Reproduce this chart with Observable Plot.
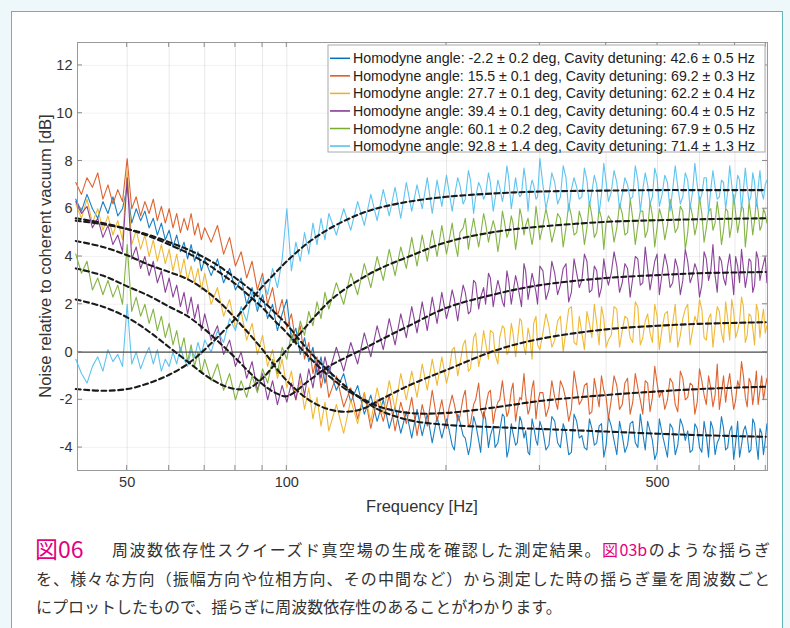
<!DOCTYPE html>
<html><head><meta charset="utf-8">
<script src="https://cdn.jsdelivr.net/npm/d3@7"></script>
<script src="https://cdn.jsdelivr.net/npm/@observablehq/plot@0.6"></script>
<style>
html,body{margin:0;padding:0;}
body{width:790px;height:628px;background:#eef8fa;position:relative;overflow:hidden;font-family:"Noto Sans CJK JP",sans-serif;}
#panel{position:absolute;left:11px;top:11px;width:772px;height:640px;background:#fff;border:1.5px solid #62b6b8;box-sizing:border-box;}
#chart{position:absolute;left:0;top:0;}
.cap{position:absolute;font-size:16px;color:#333;line-height:20px;}
.pk{color:#e4007f;}
</style></head><body>
<div id="panel"></div>
<div id="chart"></div>
<div class="cap pk" style="left:35px;top:535px;font-size:23px;line-height:26px;">図06</div>
<div class="cap" style="left:112px;top:539px;width:658px;text-align:justify;text-align-last:justify;">周波数依存性スクイーズド真空場の生成を確認した測定結果。<span class="pk">図03b</span>のような揺らぎ</div>
<div class="cap" style="left:36px;top:568px;width:734px;text-align:justify;text-align-last:justify;">を、様々な方向（振幅方向や位相方向、その中間など）から測定した時の揺らぎ量を周波数ごと</div>
<div class="cap" style="left:36px;top:596px;">にプロットしたもので、揺らぎに周波数依存性のあることがわかります。</div>
<script>
// Frequencies (Hz) of the measured traces
const freq = [40,41,42,43,44,45,46,47,48,49,50,51,52,53,54,55,56,57,58,59,60,61,62,63,64,65,66,67,68,69,70,
72,74,76,78,80,82,84,86,88,90,92,94,96,98,100,102,104,106,108,110,112,114,116,118,120,
124,128,132,136,140,144,148,152,156,160,164,168,172,176,180,184,188,192,196,200,
205,210,215,220,225,230,235,240,245,250,255,260,265,270,275,280,285,290,295,300,
308,316,324,332,340,348,356,364,372,380,388,396,404,
414,424,434,444,454,464,474,484,494,504,
516,528,540,552,564,576,588,600,612,624,636,648,660,672,684,696,708,720,732,744,756,768,780,792,804];
// extra, in-between frequency bins of the dense high-frequency part
const freqMid = [202,207,212,217,222,227,232,237,242,247,252,257,262,267,272,277,282,287,292,297,
304,312,320,328,336,344,352,360,368,376,384,392,400,
409,419,429,439,449,459,469,479,489,499,
510,522,534,546,558,570,582,594,606,618,630,642,654,666,678,690,702,714,726,738,750,762,774,786,798];

const traceBlue = [6.4,5.9,6.6,6.0,5.6,6.3,5.8,6.5,5.7,6.0,6.9,5.4,6.0,5.5,5.9,5.2,5.6,4.9,5.4,4.7,5.1,4.4,4.9,4.2,4.6,3.9,4.5,3.8,4.2,3.4,3.9,
3.2,3.9,2.9,3.5,2.6,3.1,2.0,2.7,1.7,2.4,1.4,2.0,0.9,1.6,2.2,0.5,1.0,-0.1,0.6,-0.4,0.2,-0.9,-0.2,-1.3,-0.6,
-1.6,-0.9,-2.1,-1.4,-2.6,-1.8,-2.9,-2.0,-3.2,-2.3,-3.4,-2.5,-3.6,-2.4,-3.5,-2.6,-3.8,-2.7,-3.6,-2.8,
-3.9,-2.6,-3.5,-4.3,-2.7,-3.7,-2.5,-4.0,-3.1,-3.8,-2.6,-4.4,-3.0,-3.9,-2.7,-3.6,-4.2,-2.8,-3.7,-2.9,
-4.1,-2.7,-3.8,-3.0,-4.3,-2.6,-3.6,-4.0,-2.8,-3.9,-3.1,-4.4,-2.7,
-3.7,-2.9,-4.2,-3.0,-3.8,-2.6,-4.1,-3.3,-4.5,-2.8,
-3.9,-3.0,-4.3,-2.8,-3.7,-4.2,-3.0,-4.0,-2.9,-4.4,-3.2,-3.8,-2.7,-4.1,-3.3,-4.5,-2.9,-3.9,-3.1,-4.2,-2.8,-3.8,-3.2,-4.3,-3.0];
const midBlue = [-3.2,-4.1,-2.9,-3.6,-3.9,-3.0,-4.2,-2.8,-3.5,-4.0,-3.3,-2.7,-4.1,-3.4,-3.8,-2.9,-3.3,-4.3,-3.1,-3.9,
-3.3,-3.9,-2.9,-4.0,-3.4,-4.2,-2.9,-3.5,-4.1,-3.2,-3.8,-3.0,-3.9,
-3.1,-4.3,-3.5,-3.9,-2.9,-4.0,-3.4,-2.9,-3.7,-4.2,
-3.4,-4.4,-3.2,-3.9,-3.1,-3.3,-4.1,-3.2,-4.2,-3.5,-2.9,-4.3,-3.6,-3.2,-4.0,-3.1,-3.8,-4.4,-3.3,-3.5,-4.1,-3.0,-4.5,-3.4,-3.7];

const traceOrange = [7.1,6.6,7.3,6.9,7.5,6.4,7.0,6.2,6.8,6.3,8.1,6.0,6.5,5.7,6.3,5.8,6.4,5.5,6.1,5.4,6.0,5.2,5.8,5.0,5.6,5.1,5.8,4.9,5.4,4.7,5.2,
4.6,5.3,4.1,4.8,3.6,4.2,3.1,3.8,2.6,3.3,2.0,2.7,1.5,2.2,1.0,1.6,0.4,1.1,-0.3,0.4,-0.9,-0.2,-1.5,-0.7,-1.9,
-1.0,-2.3,-1.5,-2.8,-1.7,-3.2,-2.0,-2.9,-1.8,-3.3,-2.1,-3.0,-1.9,-3.5,-2.2,-3.1,-1.6,-2.9,-2.0,-3.2,
-1.8,-2.9,-1.9,-3.1,-2.2,-1.3,-2.8,-1.7,-3.0,-2.1,-1.2,-2.7,-1.6,-2.9,-1.9,-0.9,-2.6,-1.5,-2.8,-1.7,
-2.7,-1.2,-2.4,-1.5,-2.9,-0.8,-2.2,-1.4,-2.6,-1.1,-2.3,-1.6,-2.8,
-1.0,-2.4,-1.3,-2.6,-0.9,-2.0,-1.2,-2.5,-0.6,-1.9,
-2.4,-1.1,-2.2,-0.8,-2.0,-1.3,-2.6,-0.7,-1.8,-1.0,-2.3,-0.5,-1.7,-2.1,-0.9,-2.4,-1.2,-0.4,-1.9,-1.1,-2.2,-0.8,-1.6,-2.0,-1.1];
const midOrange = [-2.4,-2.2,-2.7,-1.6,-3.0,-2.0,-2.4,-2.3,-1.6,-2.5,-2.0,-1.9,-2.5,-1.3,-2.4,-2.0,-1.8,-2.4,-1.2,-2.2,
-1.7,-2.3,-1.9,-1.2,-2.0,-2.4,-1.5,-2.0,-1.3,-2.5,-1.7,-1.0,-1.9,
-2.0,-1.4,-2.2,-1.1,-2.1,-1.5,-2.6,-1.3,-1.9,-1.3,
-1.6,-2.0,-1.3,-2.5,-1.1,-1.9,-1.4,-2.1,-1.2,-2.2,-1.5,-1.8,-2.4,-1.0,-1.4,-1.7,-2.0,-1.5,-1.0,-2.3,-1.3,-1.6,-2.2,-1.0,-1.5];

const traceYellow = [6.2,5.6,6.4,5.4,6.0,5.1,5.7,4.9,5.5,4.7,7.6,4.5,5.1,4.3,4.9,4.0,4.7,3.8,4.5,3.7,4.3,3.4,4.1,3.2,3.9,3.0,3.6,2.9,3.5,2.6,3.3,
2.0,2.7,1.5,2.2,1.0,1.7,0.5,1.2,-0.1,0.7,-0.6,0.1,-1.1,-0.3,-1.5,-0.8,-2.0,-1.2,-2.4,-1.5,-2.8,-1.9,-3.1,-2.1,-3.3,
-2.2,-3.4,-2.0,-3.0,-1.7,-2.9,-1.5,-2.6,-1.2,-2.4,-0.9,-2.0,-0.8,-1.9,-0.5,-1.6,-0.3,-1.4,-0.2,-1.3,
0.1,-1.0,0.3,-0.8,0.6,-0.6,0.9,-0.3,0.8,-0.5,1.1,-0.1,1.2,-0.2,1.4,0.2,1.0,-0.3,1.5,0.1,
1.6,0.2,1.3,0.0,1.8,0.4,1.5,0.1,1.2,2.0,0.3,1.4,0.5,
1.9,0.2,1.5,0.6,2.1,0.3,1.3,0.8,2.0,0.1,
1.6,0.4,2.0,0.7,1.8,0.3,1.5,2.2,0.6,1.4,0.2,1.9,0.8,2.1,0.5,1.7,0.9,2.3,0.4,1.6,1.0,2.0,0.6,1.8,1.1];
const midYellow = [-0.9,0.2,-0.5,0.5,-0.7,0.8,-0.2,0.4,0.9,-0.1,0.6,1.0,0.0,0.8,0.4,1.3,-0.1,0.7,1.2,0.3,
0.8,1.1,0.5,1.5,0.9,1.9,0.3,0.8,1.7,0.6,1.2,1.9,0.2,
0.7,1.8,0.9,1.4,0.4,1.9,0.6,1.6,0.4,1.5,
1.0,1.7,1.2,0.2,1.4,2.0,0.9,1.2,1.8,0.5,1.6,1.1,1.7,0.4,1.4,2.2,0.6,1.3,1.9,0.7,1.5,0.3,1.7,1.3,0.8];

const tracePurple = [6.3,5.8,6.1,5.2,5.6,4.8,5.3,4.5,4.9,4.2,7.3,3.9,4.4,3.5,4.0,3.2,3.8,2.9,3.4,2.5,3.1,2.3,2.8,1.9,2.5,1.6,2.3,1.4,2.0,0.9,1.6,
0.5,1.1,-0.1,0.5,-0.6,0.0,-1.1,-0.4,-1.6,-0.9,-2.0,-1.2,-2.2,-1.4,-2.1,-1.3,-2.0,-0.9,-1.8,-0.7,-1.5,-0.4,-1.1,-0.2,-0.9,
0.2,-0.8,0.4,-0.5,0.8,-0.2,1.1,0.1,1.4,0.3,1.6,0.6,1.9,0.8,2.1,0.9,2.3,1.2,2.5,1.4,
2.6,1.3,2.8,1.6,3.0,1.8,2.7,3.3,1.9,3.0,2.1,3.4,2.0,3.2,2.3,3.7,2.2,3.3,2.5,3.6,
2.2,3.8,2.4,3.5,2.1,3.9,2.7,4.1,2.5,3.6,2.3,3.9,2.8,
4.2,2.5,3.7,2.3,4.0,2.8,4.4,2.6,3.8,2.4,
4.1,2.7,3.9,2.4,4.3,2.9,3.7,2.3,4.2,3.0,4.5,2.5,3.8,2.8,4.1,2.4,3.6,4.3,2.7,3.9,2.5,4.2,3.0,3.7,2.9];
const midPurple = [1.8,2.2,2.0,2.5,1.7,2.9,2.3,2.0,3.1,2.4,2.7,1.9,3.0,2.5,2.9,1.9,3.4,2.6,3.0,2.0,
3.4,2.6,3.3,2.8,3.7,2.5,3.3,3.0,3.8,2.6,3.4,2.7,3.2,
3.3,3.6,2.9,3.5,3.1,3.9,2.9,3.5,3.2,4.1,
3.3,3.6,2.9,3.5,3.0,3.8,3.2,3.4,2.8,3.9,3.4,3.2,4.0,3.1,3.6,3.3,4.0,2.9,3.5,3.2,3.8,2.8,3.9,3.4,4.0];

const traceGreen = [4.1,3.3,3.8,2.6,3.1,2.4,3.0,2.3,2.8,2.0,4.5,1.7,2.3,1.5,2.0,1.2,1.8,0.9,1.5,0.6,1.2,0.3,0.9,0.0,0.6,-0.4,0.3,-0.6,0.0,-0.9,-0.3,
-1.2,-0.5,-1.6,-0.9,-2.0,-1.2,-1.9,-1.0,-1.7,-0.7,-1.3,-0.3,-0.9,0.2,-0.3,0.8,0.3,1.3,0.7,1.7,1.1,2.1,1.4,2.5,1.8,
2.9,2.0,3.3,2.4,3.7,2.7,4.0,3.0,4.3,3.2,4.4,3.5,4.8,3.6,4.9,3.8,5.1,4.0,5.3,4.1,
5.4,4.0,5.2,4.3,5.6,4.4,5.8,4.6,5.5,4.2,5.9,4.8,5.7,4.3,6.0,4.9,5.6,4.5,6.1,4.7,
6.0,4.6,5.8,4.4,6.2,4.9,5.9,4.5,6.3,4.8,6.0,4.3,5.7,
4.6,6.2,4.9,6.4,4.5,5.9,4.8,6.3,4.4,6.0,
4.7,6.4,5.0,6.1,4.3,6.2,4.9,6.5,4.6,5.9,5.1,6.3,4.5,6.0,4.8,6.6,5.0,6.1,4.4,6.3,4.9,6.4,5.1,6.0,5.4];
const midGreen = [4.6,4.7,5.0,5.6,4.9,5.1,4.9,5.4,5.0,5.2,4.7,5.5,5.0,5.4,4.8,5.7,5.3,5.1,4.9,5.6,
5.3,5.4,5.1,5.6,5.2,5.7,5.0,5.5,5.2,5.7,5.0,5.6,5.4,
5.5,5.2,5.8,5.0,5.6,5.3,5.9,5.1,5.7,5.2,
5.6,5.3,5.8,5.2,5.9,5.0,5.7,5.4,5.8,5.2,6.0,5.4,5.6,5.1,5.9,5.3,5.8,5.5,6.0,5.2,5.7,5.5,5.9,5.3,5.8];

const traceLight = [-0.3,-0.9,-1.3,-0.6,-0.2,-0.8,0.1,-0.4,-0.1,-0.6,2.0,-0.5,0.0,-0.7,-0.2,0.2,-0.5,0.1,-0.8,-0.3,-0.6,0.0,-0.5,0.2,-0.3,-0.6,0.1,-0.2,0.4,-0.1,0.5,
0.0,0.9,0.4,1.4,0.9,1.9,1.3,2.5,1.8,3.1,2.4,3.5,2.7,3.9,6.0,3.4,4.6,3.8,5.0,4.1,5.4,4.5,5.6,4.7,5.8,
4.9,6.0,5.1,6.3,5.3,6.6,5.5,6.8,5.7,6.9,5.6,7.1,5.9,7.0,6.0,7.3,5.8,7.2,6.1,7.4,
5.9,7.3,6.2,7.6,5.8,7.1,6.4,7.5,5.9,7.2,6.3,7.8,6.0,7.3,6.5,7.7,5.9,7.2,6.4,8.1,
6.0,7.5,6.2,7.8,5.9,7.3,6.4,7.7,6.1,7.4,5.8,7.9,6.3,
7.6,6.0,7.3,6.4,7.8,5.9,7.5,6.2,7.7,6.1,
7.4,5.9,7.8,6.2,7.5,6.0,7.9,6.3,7.3,5.8,7.6,6.4,7.2,6.0,7.8,6.2,7.4,5.9,7.7,6.3,7.5,6.1,7.6,6.4,7.2];
const midLight = [6.8,6.5,7.0,6.4,7.2,6.5,6.9,6.6,7.1,6.4,6.9,6.7,7.3,6.5,6.8,6.6,7.2,6.7,7.0,6.5,
7.0,6.6,7.1,6.5,7.3,6.8,6.9,6.5,7.2,6.7,7.0,6.6,7.1,
6.7,7.1,6.6,7.0,6.5,7.2,6.8,7.0,6.5,7.3,
6.6,7.1,6.8,6.9,6.5,7.2,6.7,7.0,6.6,7.3,6.8,6.9,6.5,7.1,6.7,7.0,6.6,7.2,6.8,6.9,6.5,7.1,6.9,6.7,7.0];

// Fitted model curves (dashed)
const fitFreq = [40,45,50,55,60,65,70,75,80,85,90,95,100,110,120,130,140,150,170,200,250,300,400,500,600,800];
const fitBlue = [5.5,5.35,5.15,4.9,4.6,4.3,3.95,3.55,3.1,2.65,2.15,1.65,1.15,0.05,-0.8,-1.5,-2.05,-2.45,-2.85,-3.05,-3.15,-3.22,-3.33,-3.42,-3.48,-3.55];
const fitOrange = [5.6,5.4,5.15,4.85,4.5,4.15,3.75,3.3,2.85,2.35,1.85,1.3,0.8,-0.2,-1.0,-1.6,-2.0,-2.3,-2.55,-2.55,-2.3,-2.05,-1.8,-1.65,-1.55,-1.45];
const fitYellow = [4.65,4.4,4.05,3.65,3.35,3.05,2.6,2.05,1.4,0.75,0.1,-0.6,-1.2,-2.0,-2.4,-2.5,-2.35,-2.0,-1.4,-0.75,0.1,0.55,0.95,1.1,1.18,1.25];
const fitPurple = [3.5,3.2,2.75,2.35,1.9,1.5,0.95,0.35,-0.25,-0.85,-1.35,-1.7,-1.85,-1.2,-0.6,-0.2,0.15,0.5,1.1,1.85,2.45,2.8,3.1,3.22,3.3,3.35];
const fitGreen = [2.2,1.9,1.45,0.85,0.2,-0.4,-0.95,-1.35,-1.55,-1.5,-1.1,-0.5,0.1,1.2,2.1,2.7,3.15,3.5,4.0,4.6,5.05,5.25,5.45,5.52,5.56,5.6];
const fitLight = [-1.55,-1.62,-1.55,-1.3,-0.95,-0.5,0.1,0.75,1.4,2.1,2.75,3.3,3.8,4.6,5.15,5.55,5.85,6.05,6.3,6.5,6.65,6.72,6.76,6.78,6.78,6.78];

const labels = [
  "Homodyne angle: -2.2 ± 0.2 deg, Cavity detuning: 42.6 ± 0.5 Hz",
  "Homodyne angle: 15.5 ± 0.1 deg, Cavity detuning: 69.2 ± 0.3 Hz",
  "Homodyne angle: 27.7 ± 0.1 deg, Cavity detuning: 62.2 ± 0.4 Hz",
  "Homodyne angle: 39.4 ± 0.1 deg, Cavity detuning: 60.4 ± 0.5 Hz",
  "Homodyne angle: 60.1 ± 0.2 deg, Cavity detuning: 67.9 ± 0.5 Hz",
  "Homodyne angle: 92.8 ± 1.4 deg, Cavity detuning: 71.4 ± 1.3 Hz"
];
const colors = ["#0072BD","#D95319","#EDB120","#7E2F8E","#77AC30","#4DBEEE"];
const traces = [traceBlue, traceOrange, traceYellow, tracePurple, traceGreen, traceLight];
const mids = [midBlue, midOrange, midYellow, midPurple, midGreen, midLight];
const fits = [fitBlue, fitOrange, fitYellow, fitPurple, fitGreen, fitLight];

const xGrid = [50,60,70,80,90,100,200,300,400,500,600,700,800];
const xLabels = [50,100,500];
const yTicks = [-4,-2,0,2,4,6,8,10,12];
const xDomain = [40.3, 806];
const yDomain = [-4.96, 12.96];

(function () {
  const traceMarks = traces.map((t, i) => {
    const rows = freq.map((f, j) => ({f, v: t[j]}))
      .concat(freqMid.map((f, j) => ({f, v: mids[i][j]})))
      .sort((a, b) => a.f - b.f);
    return Plot.line(rows, {x: "f", y: "v", stroke: colors[i], strokeWidth: 1.1, strokeOpacity: 0.9});
  });
  const fitMarks = fits.map(ft =>
    Plot.line(fitFreq.map((f, j) => ({f, v: ft[j]})), {x: "f", y: "v", stroke: "#1a1a1a", strokeWidth: 2.1, strokeDasharray: "5,3.5", curve: "catmull-rom"})
  );

  const chart = Plot.plot({
    width: 790, height: 520,
    marginLeft: 77, marginRight: 23, marginTop: 42, marginBottom: 50,
    style: {background: "transparent", fontFamily: "'Liberation Sans', Arial, sans-serif", fontSize: "14.5px", color: "#333"},
    x: {type: "log", domain: xDomain},
    y: {domain: yDomain},
    marks: [
      Plot.gridX({ticks: xGrid, stroke: "#000", strokeOpacity: 0.09}),
      Plot.gridY({ticks: yTicks, stroke: "#000", strokeOpacity: 0.05}),
      ...traceMarks,
      Plot.ruleY([0], {stroke: "#4d4d4d", strokeWidth: 1.3}),
      ...fitMarks,
      Plot.frame({stroke: "#9a9a9a"}),
      Plot.axisX({ticks: xLabels, tickFormat: d => String(d), tickSize: 0, tickPadding: 6, label: null}),
      Plot.axisY({ticks: yTicks, tickFormat: d => String(d), tickSize: 0, tickPadding: 5, label: null})
    ]
  });
  document.getElementById("chart").appendChild(chart);

  const svg = d3.select(chart);
  const sx = chart.scale("x"), sy = chart.scale("y");
  const xL = sx.apply(xDomain[0]), xR = sx.apply(xDomain[1]);
  const yT = sy.apply(yDomain[1]), yB = sy.apply(yDomain[0]);
  const tk = svg.append("g").attr("stroke", "#8a8a8a").attr("stroke-width", 1);
  xGrid.forEach(v => {
    const x = sx.apply(v);
    tk.append("line").attr("x1", x).attr("x2", x).attr("y1", yB).attr("y2", yB - 5);
    tk.append("line").attr("x1", x).attr("x2", x).attr("y1", yT).attr("y2", yT + 5);
  });
  yTicks.forEach(v => {
    const y = sy.apply(v);
    tk.append("line").attr("x1", xL).attr("x2", xL + 5).attr("y1", y).attr("y2", y);
    tk.append("line").attr("x1", xR).attr("x2", xR - 5).attr("y1", y).attr("y2", y);
  });

  svg.append("text").attr("transform", `translate(45,${(yT + yB) / 2}) rotate(-90)`)
    .attr("text-anchor", "middle").attr("dominant-baseline", "central")
    .attr("font-size", 16.5).attr("fill", "#333").text("Noise relative to coherent vacuum [dB]");
  svg.append("text").attr("x", (xL + xR) / 2).attr("y", 506)
    .attr("text-anchor", "middle").attr("dominant-baseline", "central")
    .attr("font-size", 16.5).attr("fill", "#333").text("Frequency [Hz]");

  const lg = svg.append("g");
  lg.append("rect").attr("x", 328).attr("y", 45).attr("width", 437).attr("height", 107)
    .attr("fill", "#fff").attr("stroke", "#aaa");
  labels.forEach((t, i) => {
    const y = 58.3 + i * 17.55;
    lg.append("line").attr("x1", 330).attr("x2", 350).attr("y1", y).attr("y2", y)
      .attr("stroke", colors[i]).attr("stroke-width", 1.5);
    lg.append("text").attr("x", 353).attr("y", y).attr("dominant-baseline", "central")
      .attr("text-anchor", "start")
      .attr("font-size", 14.5).attr("fill", "#222")
      .attr("textLength", 402).attr("lengthAdjust", "spacingAndGlyphs").text(t);
  });
})();
</script>
</body></html>
